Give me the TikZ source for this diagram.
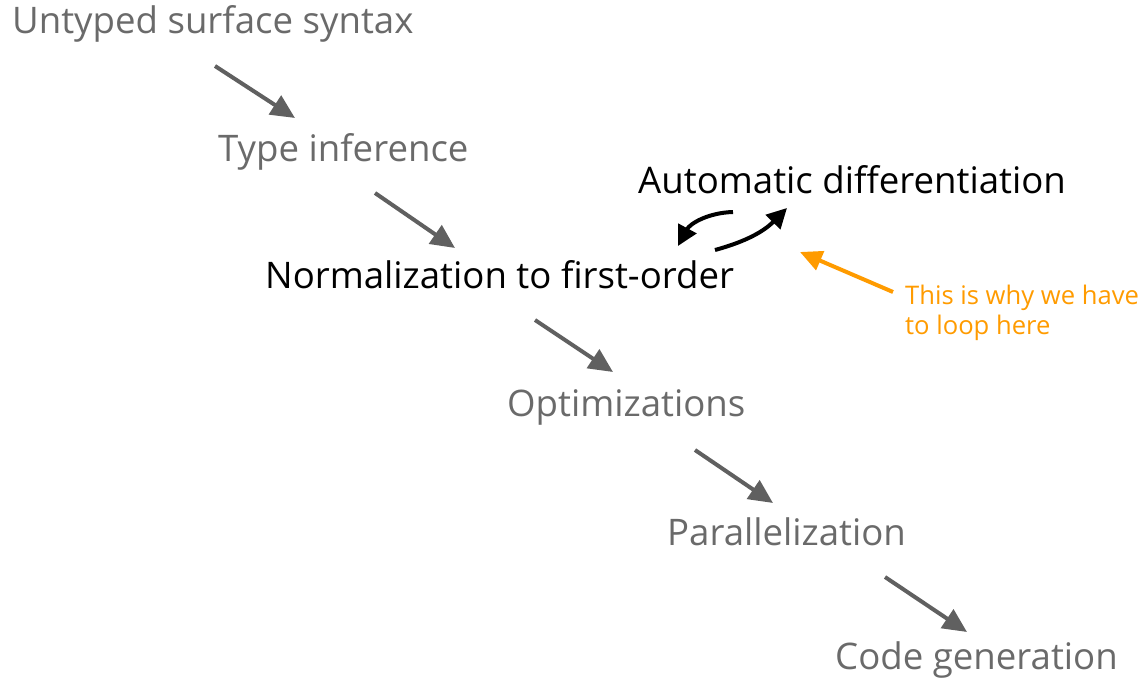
\documentclass[tikz,border=0pt]{standalone}
\usepackage{fontspec}
\setmainfont{Open Sans}
\usepackage{xcolor}
\usepackage{tikz}
\usetikzlibrary{arrows.meta, positioning, calc}

\definecolor{stagegray}{HTML}{6A6A6A}
\definecolor{arrowgray}{HTML}{606060}
\definecolor{noteorange}{HTML}{FF9B00}

\tikzset{
  stage/.style={anchor=base west, inner sep=0pt, text=stagegray, font=\fontsize{36.6}{42}\selectfont},
  focus/.style={stage, text=black},
  flow/.style={draw=arrowgray, line width=4pt, -{Triangle[length=24pt, width=22pt]}},
  loopar/.style={draw=black, line width=4pt, -{Triangle[length=20pt, width=20pt]}},
  note/.style={anchor=base west, inner sep=0pt, text=noteorange, align=left, font=\fontsize{25.6}{30}\selectfont},
}

\begin{document}
\begin{tikzpicture}[x=1pt, y=-1pt]
			\useasboundingbox (0,0) rectangle (1146,684);
			\node [stage] (untyped) at (12,34) {Untyped surface syntax};
			\node [stage] (infer) at (218,162) {Type inference};
			\node [focus] (norm) at (265,289) {Normalization to first-order};
			\node [focus] (autodiff) at (638,194) {Automatic differentiation};
			\node [stage] (optim) at (507,417) {Optimizations};
			\node [stage] (par) at (667,545) {Parallelization};
			\node [stage] (codegen) at (835,669) {Code generation};
			\node [note] (why) at (905,335) {This is why we have\\to loop here};
			% pipeline
			\draw [flow] ([shift={(203,32)}]untyped.base west) to ([shift={(77,-44)}]infer.base west);
			\draw [flow] ([shift={(157,31)}]infer.base west) to ([shift={(190,-41)}]norm.base west);
			\draw [flow] ([shift={(270,31)}]norm.base west) to ([shift={(106,-45)}]optim.base west);
			\draw [flow] ([shift={(188,33)}]optim.base west) to ([shift={(106,-42)}]par.base west);
			\draw [flow] ([shift={(218,32)}]par.base west) to ([shift={(132,-37)}]codegen.base west);
			% loop
			\draw [loopar] ([shift={(95,18)}]autodiff.base west) to [bend right=30] ([shift={(413,-43)}]norm.base west);
			\draw [loopar] ([shift={(450,-39)}]norm.base west) to [bend right=15] ([shift={(149,14)}]autodiff.base west);
			\draw [noteorange, line width=4pt, -{Triangle[length=22pt, width=20pt]}] ([shift={(-12,-43)}]why.base west) to ([shift={(535,-37)}]norm.base west);
		\end{tikzpicture}
\end{document}
